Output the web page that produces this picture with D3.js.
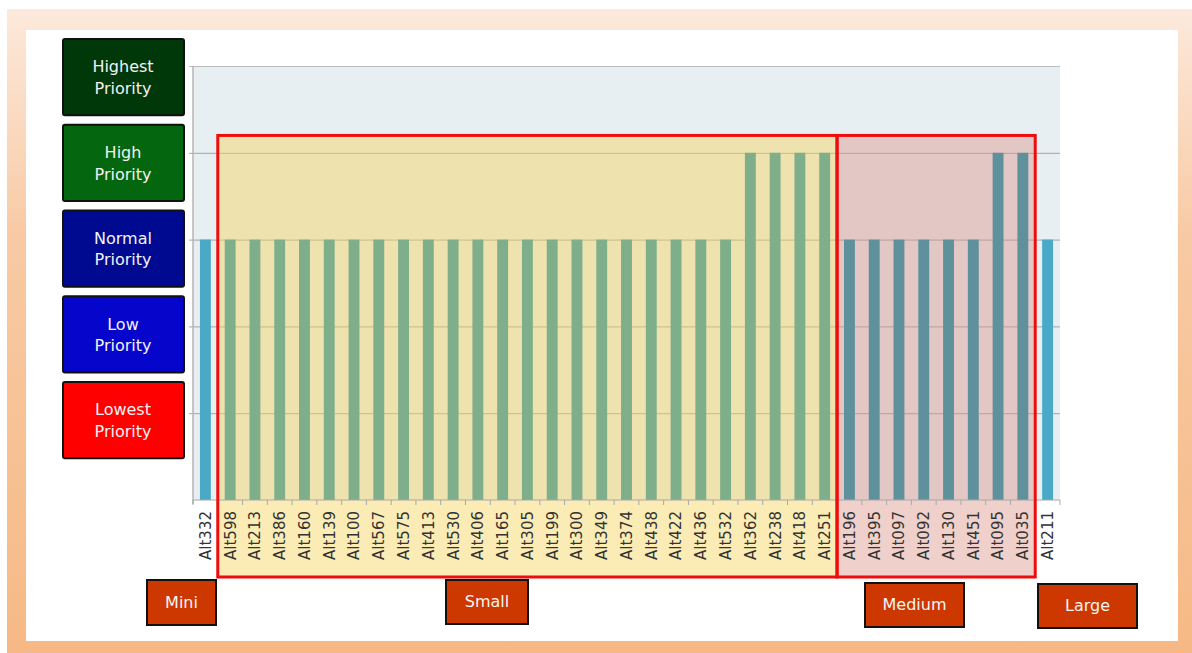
<html>
<head>
    <style>
        body { margin: 0; background: #fff; }
        svg { display: block; }
    </style>
    <script src="https://d3js.org/d3.v7.min.js"></script>
</head>
<body>
    <svg width=1192 height=653></svg>
</body>
<script>

    // alternatives along the x axis, in drawing order
    const categories = ["Alt332",
        "Alt598", "Alt213", "Alt386", "Alt160", "Alt139", "Alt100", "Alt567", "Alt575", "Alt413",
        "Alt530", "Alt406", "Alt165", "Alt305", "Alt199", "Alt300", "Alt349", "Alt374", "Alt438",
        "Alt422", "Alt436", "Alt532", "Alt362", "Alt238", "Alt418", "Alt251",
        "Alt196", "Alt395", "Alt097", "Alt092", "Alt130", "Alt451", "Alt095", "Alt035",
        "Alt211"];

    // priority level of each alternative (0 = none .. 5 = top line)
    const values = [3,
        3, 3, 3, 3, 3, 3, 3, 3, 3,
        3, 3, 3, 3, 3, 3, 3, 3, 3,
        3, 3, 3, 4, 4, 4, 4,
        3, 3, 3, 3, 3, 3, 4, 4,
        3];

    // size group of each alternative
    const sizeGroup = ["Mini",
        "Small", "Small", "Small", "Small", "Small", "Small", "Small", "Small", "Small",
        "Small", "Small", "Small", "Small", "Small", "Small", "Small", "Small", "Small",
        "Small", "Small", "Small", "Small", "Small", "Small", "Small",
        "Medium", "Medium", "Medium", "Medium", "Medium", "Medium", "Medium", "Medium",
        "Large"];

    const groupNames = ["Mini", "Small", "Medium", "Large"];
    const boxedGroups = ["Small", "Medium"];

    // priority legend, top to bottom
    const priorityLabels = ["Highest Priority", "High Priority", "Normal Priority", "Low Priority", "Lowest Priority"];
    const yTicks = [0, 1, 2, 3, 4, 5];

    // ---- styles / layout ----
    const priorityColors = ["#00380a", "#04660e", "#000a90", "#0505cc", "#ff0000"];
    const barColors = { Mini: "#4aa9c7", Small: "#7faf8a", Medium: "#5f919d", Large: "#4aa9c7" };
    const boxFills = { Small: "rgba(247, 212, 90, 0.45)", Medium: "rgba(220, 150, 140, 0.45)" };
    // where the size-tag boxes sit under the chart (they are not aligned to the groups)
    const tagBoxes = {
        Mini:   { x: 147, y: 580, w: 69, h: 45 },
        Small:  { x: 446, y: 580, w: 82, h: 44 },
        Medium: { x: 865, y: 583, w: 99, h: 44 },
        Large:  { x: 1038, y: 584, w: 99, h: 44 }
    };

    const svg = d3.select("svg")
        .style("font-family", "'DejaVu Sans', Verdana, sans-serif");

    // peach frame + white card
    const defs = svg.append("defs");
    const grad = defs.append("linearGradient")
        .attr("id", "frame")
        .attr("x1", 0).attr("y1", 0).attr("x2", 0).attr("y2", 1);
    grad.append("stop").attr("offset", 0).attr("stop-color", "#fce9dc");
    grad.append("stop").attr("offset", 0.35).attr("stop-color", "#f8caa4");
    grad.append("stop").attr("offset", 1).attr("stop-color", "#f6b985");

    svg.append("rect")
        .attr("x", 7).attr("y", 9)
        .attr("width", 1192 - 7).attr("height", 653 - 9)
        .attr("fill", "url(#frame)");
    svg.append("rect")
        .attr("x", 26).attr("y", 30)
        .attr("width", 1178 - 26).attr("height", 641 - 30)
        .attr("fill", "#fff");

    const plotLeft = 193, plotRight = 1060, plotTop = 66, plotBottom = 500;

    const x = d3.scaleBand()
        .domain(categories)
        .range([plotLeft, plotRight])
        .paddingInner(0.56)
        .paddingOuter(0.28);

    const y = d3.scaleLinear()
        .domain([0, 5])
        .range([plotBottom, plotTop]);

    // left edge of the cell that holds a bar
    const cellLeft = d => x(d) + x.bandwidth() / 2 - x.step() / 2;

    // plot background
    svg.append("rect")
        .attr("x", plotLeft).attr("y", y(5))
        .attr("width", plotRight - plotLeft).attr("height", y(0) - y(5))
        .attr("fill", "#e8eff3");

    // gridlines
    const grid = svg.append("g")
        .attr("transform", `translate(${plotLeft},0)`)
        .call(d3.axisLeft(y).tickValues(yTicks.slice(1)).tickSize(-(plotRight - plotLeft)).tickFormat(""));
    grid.select(".domain").remove();
    grid.selectAll(".tick line")
        .attr("x1", -4)
        .attr("stroke", "#a4a4a4");
    grid.selectAll(".tick").filter(d => d === 5).select("line").attr("stroke", "#bcbcbc");

    // group boxes (Small / Medium), they run down over the axis labels
    boxedGroups.forEach(g => {
        const members = categories.filter((c, i) => sizeGroup[i] === g);
        const x0 = cellLeft(members[0]);
        const x1 = cellLeft(members[members.length - 1]) + x.step();
        svg.append("rect")
            .attr("x", x0).attr("y", y(4.2))
            .attr("width", x1 - x0).attr("height", y(0) + 77 - y(4.2))
            .attr("fill", boxFills[g]);
    });

    // bars
    svg.append("g")
        .selectAll("rect")
        .data(categories)
        .join("rect")
            .attr("x", d => x(d))
            .attr("y", (d, i) => y(values[i]))
            .attr("width", x.bandwidth())
            .attr("height", (d, i) => y(0) - y(values[i]))
            .attr("fill", (d, i) => barColors[sizeGroup[i]]);

    // y axis line
    svg.append("line")
        .attr("x1", plotLeft).attr("x2", plotLeft)
        .attr("y1", y(5)).attr("y2", y(0) + 4)
        .attr("stroke", "#b4b4b4").attr("stroke-width", 1.5);

    // x axis with rotated labels
    const xAxis = svg.append("g")
        .attr("transform", `translate(0,${y(0)})`)
        .call(d3.axisBottom(x).tickSize(0));
    xAxis.select(".domain").attr("stroke", "#a8a8a8").attr("d", `M${plotLeft},0H${plotRight}`);
    xAxis.selectAll(".tick text")
        .attr("transform", "rotate(-90)")
        .attr("text-anchor", "end")
        .attr("x", -11)
        .attr("y", 0)
        .attr("dy", "0.36em")
        .attr("fill", "#333")
        .style("font-size", "15px")
        .style("font-family", "'DejaVu Sans', Verdana, sans-serif");

    // little ticks on the cell boundaries
    xAxis.append("g")
        .selectAll("line")
        .data(categories.concat([null]))
        .join("line")
            .attr("x1", d => d === null ? plotRight : cellLeft(d))
            .attr("x2", d => d === null ? plotRight : cellLeft(d))
            .attr("y1", 0).attr("y2", 5)
            .attr("stroke", "#a8a8a8");

    // red outlines on top
    boxedGroups.forEach(g => {
        const members = categories.filter((c, i) => sizeGroup[i] === g);
        const x0 = cellLeft(members[0]);
        const x1 = cellLeft(members[members.length - 1]) + x.step();
        svg.append("rect")
            .attr("x", x0).attr("y", y(4.2))
            .attr("width", x1 - x0).attr("height", y(0) + 77 - y(4.2))
            .attr("fill", "none")
            .attr("stroke", "#ee0d0d")
            .attr("stroke-width", 3);
    });

    // priority legend on the left
    const legendY = d3.scaleBand()
        .domain(priorityLabels)
        .range([39, 39 + 85.75 * 4.89])
        .paddingInner(0.11);

    const legend = svg.append("g")
        .selectAll("g")
        .data(priorityLabels)
        .join("g")
            .attr("transform", d => `translate(63,${legendY(d)})`);

    legend.append("rect")
        .attr("width", 121)
        .attr("height", legendY.bandwidth())
        .attr("rx", 2)
        .attr("fill", (d, i) => priorityColors[i])
        .attr("stroke", "#111")
        .attr("stroke-width", 2);

    legend.append("text")
        .attr("x", 60)
        .attr("y", legendY.bandwidth() / 2)
        .attr("text-anchor", "middle")
        .attr("fill", "#f2f2f2")
        .style("font-size", "16px")
        .selectAll("tspan")
        .data(d => d.split(" "))
        .join("tspan")
            .attr("x", 60)
            .attr("dy", (d, i) => i === 0 ? "-0.3em" : "1.35em")
            .text(d => d);

    // size tags under the chart
    const tags = svg.append("g")
        .selectAll("g")
        .data(groupNames)
        .join("g")
            .attr("transform", d => `translate(${tagBoxes[d].x},${tagBoxes[d].y})`);

    tags.append("rect")
        .attr("width", d => tagBoxes[d].w)
        .attr("height", d => tagBoxes[d].h)
        .attr("fill", "#cc3800")
        .attr("stroke", "#111")
        .attr("stroke-width", 2);

    tags.append("text")
        .attr("x", d => tagBoxes[d].w / 2)
        .attr("y", d => tagBoxes[d].h / 2)
        .attr("dy", "0.33em")
        .attr("text-anchor", "middle")
        .attr("fill", "#f5f5f5")
        .style("font-size", "16px")
        .text(d => d);

</script>
</html>
